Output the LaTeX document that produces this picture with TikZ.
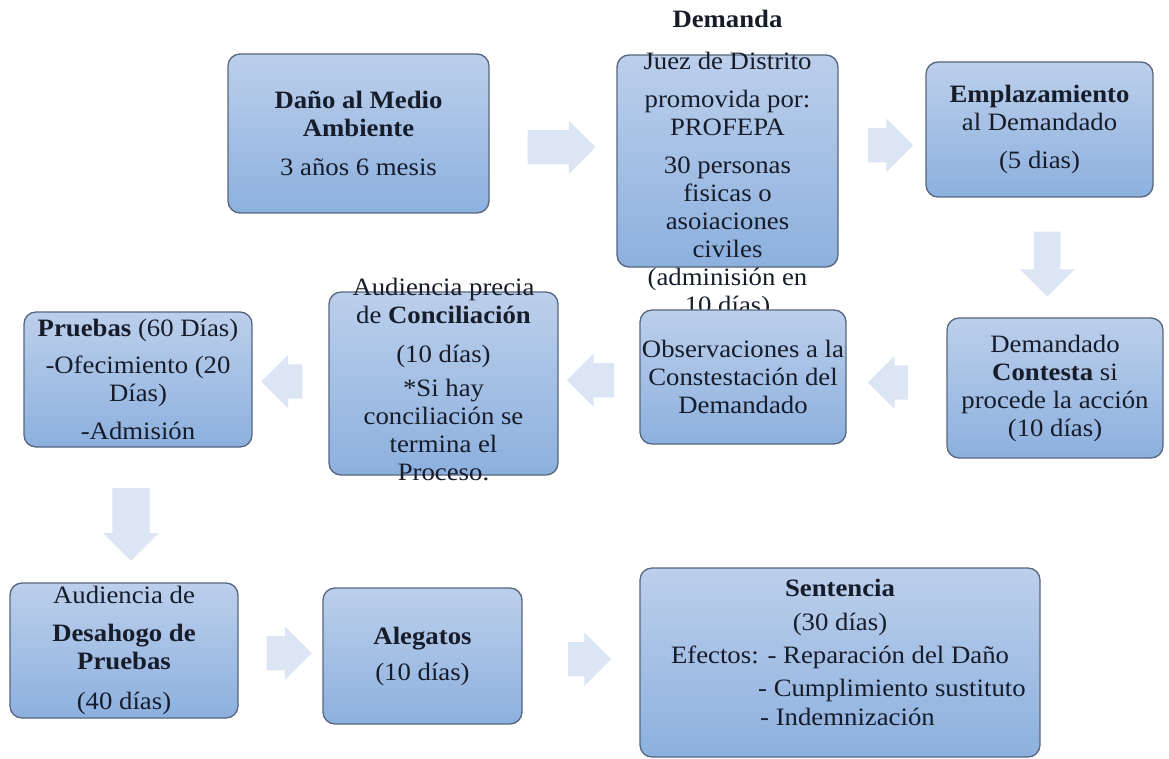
\documentclass[tikz,border=0pt]{standalone}
\usepackage{fontspec}
\setmainfont{Liberation Serif}[FakeStretch=1.07]
\usepackage{tikz}
\usetikzlibrary{positioning,calc,shapes.arrows}
\definecolor{boxtop}{RGB}{188,207,235}
\definecolor{boxbot}{RGB}{140,176,222}
\definecolor{boxline}{RGB}{86,102,126}
\definecolor{arrowblue}{RGB}{219,229,243}
\definecolor{ink}{RGB}{22,28,42}
\tikzset{box node/.style={rectangle,rounded corners=12pt,draw=boxline,line width=1.3pt,top color=boxtop,bottom color=boxbot,text=ink,align=center,inner sep=0pt,font=\fontsize{25}{28}\selectfont},
         text node/.style={text=ink,align=center,inner sep=0pt,font=\fontsize{25}{28}\selectfont},
         arrow node/.style={single arrow,fill=arrowblue,inner xsep=0pt,inner ysep=17pt,single arrow head extend=9.5pt},
            }

\begin{document}
\begin{tikzpicture}[x=1pt,y=-1pt]
    \useasboundingbox (0,0) rectangle (1169,759);

    % first row
    \node[box node,minimum width=261pt,minimum height=159pt] (dano) at (358.5,133.5)
      {\textbf{Daño al Medio}\\\textbf{Ambiente}\\[11pt]3 años 6 mesis};
    \node[box node,minimum width=221pt,minimum height=212pt] (dem) at (727.5,161) {};
    \node[text node] (demtitle) [above=26pt of dem] {\textbf{Demanda}};
    \node[text node,anchor=north] (demtxt) at (727.5,52)
      {Juez de Distrito\\[10pt]promovida por:\\PROFEPA\\[10pt]30 personas\\fisicas o\\asoiaciones\\civiles\\(adminisión en\\10 días)};
    \node[box node,minimum width=227pt,minimum height=135pt] (empl) at (1039.5,129.5)
      {\textbf{Emplazamiento}\\al Demandado\\[10pt](5 dias)};

    % second row
    \node[box node,minimum width=216pt,minimum height=140pt] (cont) at (1055,388)
      {Demandado\\\textbf{Contesta} si\\procede la acción\\(10 días)};
    \node[box node,minimum width=206pt,minimum height=134pt] (obs) at (743,377)
      {Observaciones a la\\Constestación del\\Demandado};
    \node[box node,minimum width=229pt,minimum height=183pt] (audi) at (443.5,383.5) {};
    \node[text node,anchor=north] (auditxt) at (443.5,278)
      {Audiencia precia\\de \textbf{Conciliación}\\[11pt](10 días)\\[6pt]*Si hay\\conciliación se\\termina el\\Proceso.};
    \node[box node,minimum width=228pt,minimum height=135pt] (prue) at (138,379.5)
      {\textbf{Pruebas} (60 Días)\\[9pt]-Ofecimiento (20\\Días)\\[10pt]-Admisión};

    % third row
    \node[box node,minimum width=228pt,minimum height=135pt] (desah) at (124,650.5)
      {Audiencia de\\[10pt]\textbf{Desahogo de}\\\textbf{Pruebas}\\[12pt](40 días)};
    \node[box node,minimum width=199pt,minimum height=136pt] (aleg) at (422.5,656)
      {\textbf{Alegatos}\\[8pt](10 días)};
    \node[box node,minimum width=400pt,minimum height=189pt] (sent) at (840,662.5) {};
    \node[text node,anchor=north] (senttxt) at (840,579)
      {\textbf{Sentencia}\\[6pt](30 días)\\[5pt]Efectos: - Reparación del Daño};
    \node[text node,anchor=base west] (sentb) at (758,696) {- Cumplimiento sustituto};
    \node[text node,anchor=base west] (sentc) at (760,725) {- Indemnización};

    % block arrows
    \node[arrow node,minimum height=68pt] (a1) at ($(dano.east)!0.5!(dem.west)$) {};
    \node[arrow node,minimum height=45pt] (a2) at ($(dem.east)!0.5!(empl.west)$) {};
    \node[arrow node,minimum height=65pt,rotate=-90,inner ysep=13pt,single arrow head extend=14pt] (a3) at ($(empl.south)!0.5!(cont.north)$) {};
    \node[arrow node,minimum height=40pt,rotate=180] (a4) at ($(cont.west)!0.5!(obs.east)$) {};
    \node[arrow node,minimum height=47pt,rotate=180] (a5) at ($(obs.west)!0.5!(audi.east)$) {};
    \node[arrow node,minimum height=41pt,rotate=180] (a6) at ($(audi.west)!0.5!(prue.east)$) {};
    \node[arrow node,minimum height=73pt,rotate=-90,inner ysep=18.5pt,single arrow head extend=9pt] (a7) at ($(prue.south)!0.5!(desah.north)$) {};
    \node[arrow node,minimum height=45pt] (a8) at ($(desah.east)!0.5!(aleg.west)$) {};
    \node[arrow node,minimum height=43pt] (a9) at ($(aleg.east)!0.5!(sent.west)$) {};
\end{tikzpicture}
\end{document}
